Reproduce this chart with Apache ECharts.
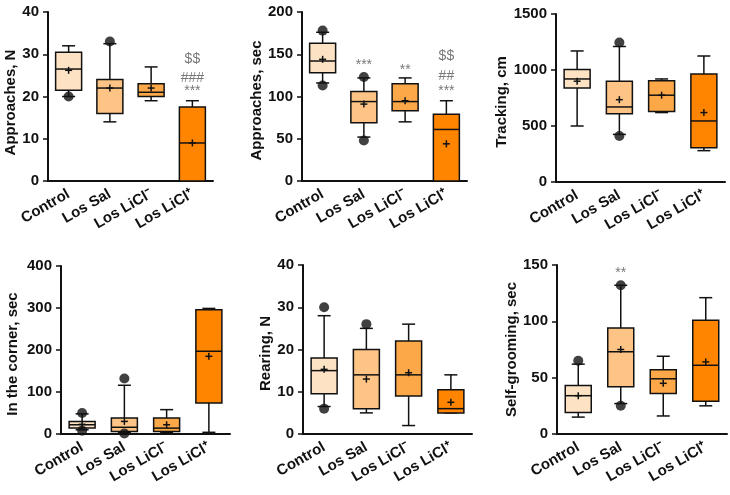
<!DOCTYPE html>
<html><head><meta charset="utf-8">
<script src="https://cdn.jsdelivr.net/npm/echarts@6/dist/echarts.min.js"></script>
<style>html,body{margin:0;padding:0;background:#fff}#c{width:730px;height:495px}</style>
</head><body><div id="c"></div>
<script>
const categories = ['Control', 'Los Sal', 'Los LiCl\u207B', 'Los LiCl\u207A'];
const boxColors = ['#FDE2C4', '#FDC486', '#FDA848', '#FF8400'];

// Panel 1: Approaches, N
const p1Min = [20, 14, 19, 0];
const p1Q1 = [21.5, 16, 20, 0];
const p1Med = [26.5, 22, 21, 9];
const p1Q3 = [30.5, 24, 23, 17.5];
const p1Max = [32, 32.5, 27, 19];
const p1Mean = [26.2, 22, 22, 9];
const p1Out = [[0, 20], [1, 33]];
const p1Notes = [[3, 28.8, '$$'], [3, 24.4, '###'], [3, 21.2, '***']];

// Panel 2: Approaches, sec
const p2Min = [116, 52, 70, 0];
const p2Q1 = [128, 69, 83, 0];
const p2Med = [142, 94, 94, 61];
const p2Q3 = [163, 106, 115, 79];
const p2Max = [176, 122, 122, 95];
const p2Mean = [144, 91, 95, 44];
const p2Out = [[0, 113], [0, 178], [1, 48], [1, 123]];
const p2Notes = [[1, 137, '***'], [2, 131, '**'], [3, 148, '$$'], [3, 124, '##'], [3, 106, '***']];

// Panel 3: Tracking, cm
const p3Min = [500, 425, 620, 280];
const p3Q1 = [840, 610, 630, 305];
const p3Med = [920, 670, 775, 545];
const p3Q3 = [1005, 900, 905, 965];
const p3Max = [1170, 1210, 920, 1125];
const p3Mean = [900, 735, 775, 620];
const p3Out = [[1, 410], [1, 1245]];
const p3Notes = [];

// Panel 4: In the corner, sec
const p4Min = [10, 4, 3, 4];
const p4Q1 = [14, 6, 6, 74];
const p4Med = [22, 16, 14, 197];
const p4Q3 = [30, 38, 38, 296];
const p4Max = [48, 116, 58, 299];
const p4Mean = [23, 30, 22, 185];
const p4Out = [[0, 50], [0, 8], [1, 1], [1, 132]];
const p4Notes = [];

// Panel 5: Rearing, N
const p5Min = [6.5, 5, 2, 5];
const p5Q1 = [9.5, 6, 9, 5];
const p5Med = [15, 14, 14, 6];
const p5Q3 = [18, 20, 22, 10.5];
const p5Max = [28, 25, 26, 14];
const p5Mean = [15.3, 13, 14.5, 7.5];
const p5Out = [[0, 6], [0, 30], [1, 26]];
const p5Notes = [];

// Panel 6: Self-grooming, sec
const p6Min = [15, 27, 16, 25];
const p6Q1 = [19, 42, 36, 29];
const p6Med = [34, 73, 49, 61];
const p6Q3 = [43, 94, 57, 101];
const p6Max = [62, 132, 69, 121];
const p6Mean = [34, 75, 45, 64];
const p6Out = [[0, 65], [1, 25], [1, 132]];
const p6Notes = [[1, 143, '**']];

const yNames = ['Approaches, N', 'Approaches, sec', 'Tracking, cm', 'In the corner, sec', 'Rearing, N', 'Self-grooming, sec'];
const yMax = [40, 200, 1500, 400, 40, 150];
const yInterval = [10, 50, 500, 100, 10, 50];

const panels = [
  [p1Min, p1Q1, p1Med, p1Q3, p1Max, p1Mean, p1Out, p1Notes],
  [p2Min, p2Q1, p2Med, p2Q3, p2Max, p2Mean, p2Out, p2Notes],
  [p3Min, p3Q1, p3Med, p3Q3, p3Max, p3Mean, p3Out, p3Notes],
  [p4Min, p4Q1, p4Med, p4Q3, p4Max, p4Mean, p4Out, p4Notes],
  [p5Min, p5Q1, p5Med, p5Q3, p5Max, p5Mean, p5Out, p5Notes],
  [p6Min, p6Q1, p6Med, p6Q3, p6Max, p6Mean, p6Out, p6Notes]
];

// layout (plot areas)
const gridPos = [
  {left: 48, top: 12, width: 165, height: 169},
  {left: 302, top: 12, width: 165, height: 169},
  {left: 556, top: 14, width: 169, height: 168},
  {left: 61, top: 266, width: 169, height: 168},
  {left: 303, top: 265, width: 169, height: 169},
  {left: 557, top: 265, width: 170, height: 169}
];
const nameGaps = [26, 30, 42, 41, 29, 37];
const nameShift = [12, 8, 8, 8, 8, 0];

const FONT = 'Liberation Sans, Arial, sans-serif';
const INK = '#111';

function renderBox(params, api) {
  const i = api.value(0);
  const x = api.coord([i, 0])[0];
  const y = k => api.coord([i, api.value(k)])[1];
  const yMn = y(1), yQ1 = y(2), yMd = y(3), yQ3 = y(4), yMx = y(5), yMe = y(6);
  const w = 26, cw = 13, pw = 3.5;
  const ls = {stroke: INK, lineWidth: 1.5};
  return {type: 'group', children: [
    {type: 'line', shape: {x1: x, y1: yMx, x2: x, y2: yQ3}, style: ls},
    {type: 'line', shape: {x1: x, y1: yQ1, x2: x, y2: yMn}, style: ls},
    {type: 'line', shape: {x1: x - cw / 2, y1: yMx, x2: x + cw / 2, y2: yMx}, style: ls},
    {type: 'line', shape: {x1: x - cw / 2, y1: yMn, x2: x + cw / 2, y2: yMn}, style: ls},
    {type: 'rect', shape: {x: x - w / 2, y: yQ3, width: w, height: yQ1 - yQ3},
      style: {fill: boxColors[i], stroke: INK, lineWidth: 1.5}},
    {type: 'line', shape: {x1: x - w / 2, y1: yMd, x2: x + w / 2, y2: yMd}, style: ls},
    {type: 'line', shape: {x1: x - pw, y1: yMe, x2: x + pw, y2: yMe}, style: ls},
    {type: 'line', shape: {x1: x, y1: yMe - pw, x2: x, y2: yMe + pw}, style: ls}
  ]};
}

const grid = [], xAxis = [], yAxis = [], series = [];
panels.forEach((p, g) => {
  const [mn, q1, md, q3, mx, me, out, notes] = p;
  grid.push(gridPos[g]);
  xAxis.push({
    type: 'category', gridIndex: g, data: categories,
    axisLine: {lineStyle: {color: INK, width: 2}},
    axisTick: {alignWithLabel: true, length: 5, lineStyle: {color: INK, width: 1.5}},
    axisLabel: {rotate: 30, fontFamily: FONT, fontWeight: 'bold', fontSize: 15, color: INK, margin: 12, interval: 0}
  });
  yAxis.push({
    type: 'value', gridIndex: g, min: 0, max: yMax[g], interval: yInterval[g],
    name: yNames[g], nameLocation: 'middle', nameGap: nameGaps[g],
    nameTextStyle: {fontFamily: FONT, fontWeight: 'bold', fontSize: 15, color: INK,
      padding: [0, nameShift[g], 0, 0]},
    axisLine: {show: true, lineStyle: {color: INK, width: 2}},
    axisTick: {show: true, length: 5, lineStyle: {color: INK, width: 1.5}},
    splitLine: {show: false},
    axisLabel: {fontFamily: FONT, fontWeight: 'bold', fontSize: 15, color: INK, margin: 9,
      formatter: v => String(v)}
  });
  series.push({
    type: 'custom', xAxisIndex: g, yAxisIndex: g, clip: false,
    renderItem: renderBox,
    encode: {x: 0, y: [1, 2, 3, 4, 5]},
    data: categories.map((c, i) => [i, mn[i], q1[i], md[i], q3[i], mx[i], me[i]]),
    silent: true
  });
  series.push({
    type: 'scatter', xAxisIndex: g, yAxisIndex: g, symbol: 'circle', symbolSize: 10,
    itemStyle: {color: INK}, data: out, silent: true, z: 5
  });
  if (notes.length) {
    series.push({
      type: 'scatter', xAxisIndex: g, yAxisIndex: g, symbolSize: 0, silent: true,
      data: notes,
      label: {show: true, position: 'inside', formatter: q => q.value[2],
        fontFamily: FONT, fontSize: 14, color: '#555'}
    });
  }
});

const chart = echarts.init(document.getElementById('c'), null, {renderer: 'canvas'});
chart.setOption({animation: false, grid, xAxis, yAxis, series});
</script>
</body></html>
